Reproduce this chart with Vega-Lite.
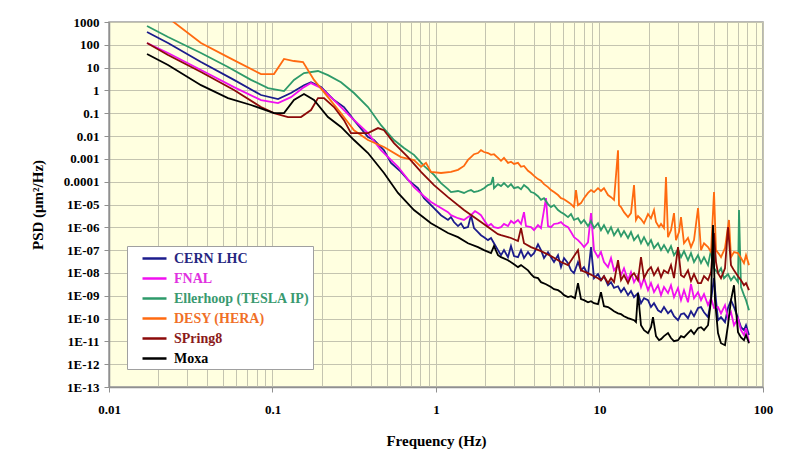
{
"$schema":"https://vega.github.io/schema/vega-lite/v6.json",
"width":654,"height":365,
"autosize":{"type":"none"},
"padding":{"left":109,"top":22,"right":22,"bottom":73},
"background":"white",
"config":{"view":{"fill":"#ffffe0","stroke":"#a0a0a0","strokeWidth":1.5},"font":"Liberation Serif"},
"datasets":{
"cern":[{"f":0.01708,"p":364},{"f":0.02296,"p":120},{"f":0.03653,"p":17.6},{"f":0.05813,"p":2.9},{"f":0.08505,"p":0.63},{"f":0.1081,"p":0.42},{"f":0.1297,"p":0.77},{"f":0.1558,"p":1.7},{"f":0.172,"p":2.3},{"f":0.198,"p":1.4},{"f":0.2377,"p":0.38},{"f":0.2737,"p":0.187},{"f":0.3151,"p":0.05},{"f":0.3838,"p":0.009},{"f":0.4176,"p":0.0067},{"f":0.4808,"p":0.0024},{"f":0.5306,"p":0.00067},{"f":0.6107,"p":0.00027},{"f":0.674,"p":0.00012},{"f":0.7759,"p":5.2e-5},{"f":0.8445,"p":1.9e-5},{"f":0.9723,"p":7.0e-6},{"f":1.073,"p":3.4e-6},{"f":1.184,"p":2.1e-6},{"f":1.235,"p":2.8e-6},{"f":1.288,"p":1.7e-6},{"f":1.363,"p":1.13e-6},{"f":1.422,"p":1.5e-6},{"f":1.483,"p":9.2e-7},{"f":1.569,"p":1.02e-6},{"f":1.637,"p":3.4e-6},{"f":1.708,"p":9.2e-7},{"f":1.807,"p":6.2e-7},{"f":1.884,"p":4.5e-7},{"f":1.966,"p":3.7e-7},{"f":2.08,"p":2.75e-7},{"f":2.17,"p":3.4e-7},{"f":2.263,"p":2.0e-7},{"f":2.394,"p":1.0e-7},{"f":2.498,"p":6.0e-8},{"f":2.605,"p":1.0e-7},{"f":2.756,"p":4.9e-8},{"f":2.875,"p":1.5e-7},{"f":3.0,"p":5.5e-8},{"f":3.173,"p":4.9e-8},{"f":3.311,"p":1.0e-7},{"f":3.453,"p":4.5e-8},{"f":3.654,"p":8.2e-8},{"f":3.811,"p":5.5e-8},{"f":3.976,"p":7.4e-8},{"f":4.206,"p":1.8e-7},{"f":4.387,"p":1.0e-7},{"f":4.577,"p":4.5e-8},{"f":4.842,"p":8.2e-8},{"f":5.051,"p":4.9e-8},{"f":5.269,"p":3.0e-8},{"f":5.575,"p":6.0e-8},{"f":5.815,"p":1.8e-8},{"f":6.067,"p":4.5e-8},{"f":6.418,"p":2.7e-8},{"f":6.695,"p":1.3e-8},{"f":6.983,"p":9.8e-9},{"f":7.387,"p":3.0e-8},{"f":7.706,"p":1.3e-8},{"f":8.039,"p":1.8e-8},{"f":8.505,"p":8.0e-9},{"f":8.873,"p":1.35e-7},{"f":9.256,"p":5.9e-9},{"f":9.791,"p":8.9e-9},{"f":10.21,"p":4.8e-9},{"f":10.65,"p":7.2e-9},{"f":11.27,"p":2.9e-9},{"f":11.76,"p":3.95e-9},{"f":12.27,"p":2.2e-9},{"f":12.98,"p":2.6e-9},{"f":13.54,"p":1.44e-9},{"f":14.12,"p":2.2e-9},{"f":14.94,"p":1.06e-9},{"f":15.58,"p":1.6e-9},{"f":16.26,"p":8.7e-10},{"f":17.2,"p":1.3e-9},{"f":17.94,"p":4.7e-10},{"f":18.72,"p":7.85e-10},{"f":19.8,"p":6.4e-10},{"f":20.65,"p":3.2e-10},{"f":21.54,"p":4.7e-10},{"f":22.79,"p":2.3e-10},{"f":23.78,"p":1.9e-10},{"f":24.8,"p":3.2e-10},{"f":26.24,"p":1.7e-10},{"f":27.37,"p":2.3e-10},{"f":28.55,"p":1.27e-10},{"f":30.21,"p":8.5e-11},{"f":31.51,"p":1.56e-10},{"f":32.87,"p":1.7e-10},{"f":34.77,"p":1.04e-10},{"f":36.27,"p":2.1e-10},{"f":37.84,"p":1.27e-10},{"f":40.05,"p":2.9e-10},{"f":41.77,"p":3.2e-10},{"f":43.57,"p":1.9e-10},{"f":46.1,"p":1.15e-10},{"f":48.09,"p":6.4e-10},{"f":50.16,"p":5.9e-9},{"f":51.58,"p":6.4e-10},{"f":53.06,"p":8.5e-11},{"f":55.35,"p":1.15e-10},{"f":58.55,"p":7.0e-11},{"f":61.08,"p":2.9e-10},{"f":63.72,"p":6.4e-10},{"f":66.46,"p":3.2e-10},{"f":70.31,"p":1.04e-10},{"f":73.35,"p":4.2e-11},{"f":76.5,"p":3.1e-11},{"f":78.72,"p":5.1e-11},{"f":82.1,"p":1.9e-11}],
"fnal":[{"f":0.01708,"p":120},{"f":0.02296,"p":44},{"f":0.03653,"p":7.85},{"f":0.05813,"p":1.4},{"f":0.08505,"p":0.38},{"f":0.1081,"p":0.28},{"f":0.1297,"p":0.51},{"f":0.1558,"p":1.4},{"f":0.172,"p":2.1},{"f":0.198,"p":1.27},{"f":0.2377,"p":0.38},{"f":0.302,"p":0.068},{"f":0.3838,"p":0.0135},{"f":0.4609,"p":0.0024},{"f":0.5855,"p":0.00045},{"f":0.7333,"p":5.8e-5},{"f":0.8445,"p":2.3e-5},{"f":0.932,"p":1.3e-5},{"f":1.073,"p":7.0e-6},{"f":1.184,"p":4.6e-6},{"f":1.235,"p":3.4e-6},{"f":1.363,"p":2.5e-6},{"f":1.483,"p":2.1e-6},{"f":1.569,"p":2.8e-6},{"f":1.637,"p":3.4e-6},{"f":1.732,"p":5.1e-6},{"f":1.807,"p":4.2e-6},{"f":1.884,"p":3.4e-6},{"f":1.966,"p":2.1e-6},{"f":2.08,"p":1.13e-6},{"f":2.17,"p":1.4e-6},{"f":2.263,"p":1.02e-6},{"f":2.394,"p":9.2e-7},{"f":2.498,"p":1.02e-6},{"f":2.605,"p":1.4e-6},{"f":2.756,"p":1.13e-6},{"f":2.875,"p":1.9e-6},{"f":3.0,"p":1.5e-6},{"f":3.173,"p":2.1e-6},{"f":3.311,"p":1.4e-6},{"f":3.453,"p":4.6e-6},{"f":3.552,"p":1.13e-6},{"f":3.811,"p":1.02e-6},{"f":3.976,"p":7.5e-7},{"f":4.206,"p":1.25e-6},{"f":4.387,"p":9.2e-7},{"f":4.707,"p":1.9e-5},{"f":4.842,"p":1.13e-6},{"f":5.051,"p":1.02e-6},{"f":5.269,"p":1.4e-6},{"f":5.575,"p":1.5e-6},{"f":5.815,"p":1.7e-6},{"f":6.067,"p":1.25e-6},{"f":6.418,"p":1.02e-6},{"f":6.695,"p":6.2e-7},{"f":6.983,"p":3.7e-7},{"f":7.387,"p":2.75e-7},{"f":7.706,"p":2.0e-7},{"f":8.039,"p":1.35e-7},{"f":8.505,"p":2.2e-7},{"f":8.873,"p":4.2e-6},{"f":9.256,"p":1.0e-7},{"f":9.791,"p":4.9e-8},{"f":10.21,"p":8.2e-8},{"f":10.65,"p":3.0e-8},{"f":11.27,"p":1.8e-8},{"f":11.76,"p":4.5e-8},{"f":12.27,"p":1.3e-8},{"f":12.98,"p":2.2e-8},{"f":13.54,"p":8.0e-9},{"f":14.12,"p":1.6e-8},{"f":14.94,"p":4.8e-9},{"f":15.58,"p":1.1e-8},{"f":16.26,"p":3.95e-9},{"f":17.2,"p":8.0e-9},{"f":17.94,"p":2.4e-9},{"f":18.72,"p":5.9e-9},{"f":19.8,"p":1.76e-9},{"f":20.65,"p":3.6e-9},{"f":21.54,"p":1.44e-9},{"f":22.79,"p":2.9e-9},{"f":23.78,"p":1.06e-9},{"f":24.8,"p":2.4e-9},{"f":26.24,"p":1.3e-9},{"f":27.37,"p":2.9e-9},{"f":28.55,"p":8.7e-10},{"f":30.21,"p":2.2e-9},{"f":31.51,"p":6.4e-10},{"f":32.87,"p":1.76e-9},{"f":34.77,"p":5.2e-10},{"f":36.27,"p":3.2e-9},{"f":37.84,"p":7.85e-10},{"f":40.05,"p":1.44e-9},{"f":41.77,"p":6.4e-10},{"f":43.57,"p":1.18e-9},{"f":46.1,"p":3.9e-10},{"f":48.09,"p":7.85e-10},{"f":50.16,"p":2.9e-10},{"f":53.06,"p":3.2e-10},{"f":55.35,"p":1.7e-10},{"f":58.55,"p":3.9e-10},{"f":61.08,"p":1.04e-10},{"f":63.72,"p":1.9e-10},{"f":66.46,"p":5.1e-11},{"f":70.31,"p":1.04e-10},{"f":73.35,"p":3.1e-11},{"f":76.5,"p":1.9e-11},{"f":78.72,"p":3.8e-11},{"f":82.1,"p":9.2e-12}],
"eller":[{"f":0.01708,"p":668},{"f":0.02296,"p":220},{"f":0.03653,"p":44},{"f":0.05342,"p":10.6},{"f":0.07387,"p":2.9},{"f":0.09387,"p":1.27},{"f":0.1176,"p":0.94},{"f":0.1353,"p":2.9},{"f":0.1558,"p":5.8},{"f":0.1898,"p":7.1},{"f":0.2184,"p":4.7},{"f":0.2624,"p":2.3},{"f":0.3151,"p":0.77},{"f":0.3838,"p":0.187},{"f":0.4609,"p":0.03},{"f":0.5534,"p":0.0067},{"f":0.6371,"p":0.003},{"f":0.7333,"p":0.0015},{"f":0.8445,"p":0.00049},{"f":0.9723,"p":0.0002},{"f":1.073,"p":8.7e-5},{"f":1.184,"p":4.7e-5},{"f":1.235,"p":3.5e-5},{"f":1.363,"p":3.9e-5},{"f":1.483,"p":3.2e-5},{"f":1.569,"p":3.9e-5},{"f":1.637,"p":4.3e-5},{"f":1.708,"p":3.5e-5},{"f":1.807,"p":3.9e-5},{"f":1.884,"p":4.3e-5},{"f":1.966,"p":5.2e-5},{"f":2.08,"p":7.1e-5},{"f":2.17,"p":7.8e-5},{"f":2.232,"p":0.00016},{"f":2.263,"p":5.2e-5},{"f":2.394,"p":7.8e-5},{"f":2.498,"p":6.4e-5},{"f":2.605,"p":8.7e-5},{"f":2.756,"p":5.8e-5},{"f":2.875,"p":7.8e-5},{"f":3.0,"p":5.2e-5},{"f":3.173,"p":5.8e-5},{"f":3.311,"p":4.7e-5},{"f":3.453,"p":7.1e-5},{"f":3.654,"p":5.2e-5},{"f":3.811,"p":3.5e-5},{"f":3.976,"p":3.2e-5},{"f":4.206,"p":2.3e-5},{"f":4.387,"p":1.6e-5},{"f":4.577,"p":1.9e-5},{"f":4.842,"p":1.04e-5},{"f":5.051,"p":7.7e-6},{"f":5.269,"p":9.4e-6},{"f":5.575,"p":5.7e-6},{"f":5.815,"p":4.6e-6},{"f":6.067,"p":3.8e-6},{"f":6.418,"p":2.8e-6},{"f":6.695,"p":3.8e-6},{"f":6.983,"p":2.1e-6},{"f":7.387,"p":2.5e-6},{"f":7.706,"p":1.5e-6},{"f":8.039,"p":2.1e-6},{"f":8.505,"p":1.13e-6},{"f":8.873,"p":1.9e-6},{"f":9.256,"p":9.2e-7},{"f":9.791,"p":1.5e-6},{"f":10.21,"p":7.5e-7},{"f":10.65,"p":1.25e-6},{"f":11.27,"p":5.6e-7},{"f":11.76,"p":1.02e-6},{"f":12.27,"p":4.5e-7},{"f":12.98,"p":8.3e-7},{"f":13.54,"p":4.1e-7},{"f":14.12,"p":6.8e-7},{"f":14.94,"p":3.4e-7},{"f":15.58,"p":6.2e-7},{"f":16.26,"p":2.75e-7},{"f":17.2,"p":4.5e-7},{"f":17.94,"p":2.0e-7},{"f":18.72,"p":3.7e-7},{"f":19.8,"p":1.66e-7},{"f":20.65,"p":2.75e-7},{"f":21.54,"p":1.22e-7},{"f":22.79,"p":2.0e-7},{"f":23.78,"p":1.0e-7},{"f":24.8,"p":1.66e-7},{"f":26.24,"p":8.2e-8},{"f":27.37,"p":1.5e-7},{"f":28.55,"p":6.0e-8},{"f":30.21,"p":1.1e-7},{"f":31.51,"p":4.9e-8},{"f":32.87,"p":9.0e-8},{"f":34.77,"p":3.6e-8},{"f":36.27,"p":7.4e-8},{"f":37.84,"p":3.0e-8},{"f":40.05,"p":6.0e-8},{"f":41.77,"p":2.7e-8},{"f":43.57,"p":4.9e-8},{"f":46.1,"p":2.2e-8},{"f":48.09,"p":1.0e-7},{"f":50.16,"p":1.6e-8},{"f":53.06,"p":9.8e-9},{"f":55.35,"p":1.6e-8},{"f":57.74,"p":5.9e-9},{"f":61.08,"p":8.9e-9},{"f":63.72,"p":4.8e-9},{"f":66.46,"p":7.2e-9},{"f":70.31,"p":3.95e-9},{"f":71.32,"p":5.7e-6},{"f":73.35,"p":2.4e-9},{"f":76.5,"p":1.06e-9},{"f":78.72,"p":6.4e-10},{"f":82.1,"p":2.3e-10}],
"desy":[{"f":0.01708,"p":5560},{"f":0.02394,"p":1224},{"f":0.03653,"p":120},{"f":0.05342,"p":29},{"f":0.08505,"p":5.2},{"f":0.1021,"p":5.2},{"f":0.1176,"p":24},{"f":0.1353,"p":19.5},{"f":0.1537,"p":17.6},{"f":0.1794,"p":2.9},{"f":0.2184,"p":0.51},{"f":0.2624,"p":0.1},{"f":0.3151,"p":0.018},{"f":0.3838,"p":0.0067},{"f":0.4808,"p":0.0033},{"f":0.6107,"p":0.0012},{"f":0.7333,"p":0.00089},{"f":0.8096,"p":0.00045},{"f":0.8686,"p":0.00067},{"f":0.932,"p":0.00027},{"f":1.073,"p":0.00024},{"f":1.235,"p":0.00027},{"f":1.363,"p":0.00033},{"f":1.483,"p":0.00049},{"f":1.569,"p":0.0009},{"f":1.637,"p":0.0012},{"f":1.708,"p":0.0016},{"f":1.807,"p":0.0018},{"f":1.884,"p":0.0024},{"f":1.966,"p":0.002},{"f":2.08,"p":0.0018},{"f":2.17,"p":0.0015},{"f":2.263,"p":0.0016},{"f":2.394,"p":0.0011},{"f":2.498,"p":0.00082},{"f":2.605,"p":0.0011},{"f":2.756,"p":0.00067},{"f":2.875,"p":0.00074},{"f":3.0,"p":0.0006},{"f":3.173,"p":0.00067},{"f":3.311,"p":0.00045},{"f":3.453,"p":0.00049},{"f":3.654,"p":0.0003},{"f":3.811,"p":0.00024},{"f":3.976,"p":0.00018},{"f":4.206,"p":0.00013},{"f":4.387,"p":0.00011},{"f":4.577,"p":7.8e-5},{"f":4.842,"p":5.8e-5},{"f":5.051,"p":4.3e-5},{"f":5.269,"p":3.5e-5},{"f":5.575,"p":2.6e-5},{"f":5.815,"p":1.9e-5},{"f":6.067,"p":1.7e-5},{"f":6.418,"p":1.3e-5},{"f":6.695,"p":1.04e-5},{"f":6.983,"p":7.7e-6},{"f":7.183,"p":4.3e-5},{"f":7.387,"p":9.4e-6},{"f":7.706,"p":1.15e-5},{"f":8.039,"p":1.9e-5},{"f":8.505,"p":3.2e-5},{"f":8.873,"p":4.3e-5},{"f":9.256,"p":3.5e-5},{"f":9.791,"p":5.2e-5},{"f":10.21,"p":3.9e-5},{"f":10.65,"p":5.2e-5},{"f":11.27,"p":2.6e-5},{"f":11.76,"p":2.1e-5},{"f":12.27,"p":1.6e-5},{"f":12.98,"p":0.0024},{"f":13.16,"p":9.4e-6},{"f":13.54,"p":7.7e-6},{"f":14.12,"p":4.6e-6},{"f":14.94,"p":2.8e-6},{"f":15.58,"p":4.2e-6},{"f":16.26,"p":7.1e-5},{"f":16.72,"p":2.1e-6},{"f":17.2,"p":3.1e-6},{"f":17.94,"p":2.3e-6},{"f":18.72,"p":1.5e-6},{"f":19.8,"p":3.8e-6},{"f":20.65,"p":2.5e-6},{"f":21.54,"p":5.7e-6},{"f":22.16,"p":1.7e-6},{"f":23.12,"p":1.02e-6},{"f":23.78,"p":1.4e-6},{"f":24.8,"p":9.2e-7},{"f":25.51,"p":0.00016},{"f":26.24,"p":3.7e-7},{"f":27.37,"p":7.5e-7},{"f":28.55,"p":4.2e-6},{"f":29.37,"p":2.75e-7},{"f":30.64,"p":6.2e-7},{"f":31.51,"p":2.8e-6},{"f":32.87,"p":2.0e-7},{"f":34.77,"p":3.4e-7},{"f":36.27,"p":1.35e-7},{"f":37.84,"p":2.75e-7},{"f":40.05,"p":7.0e-6},{"f":41.77,"p":1.0e-7},{"f":43.57,"p":2.0e-7},{"f":46.1,"p":1.35e-7},{"f":48.09,"p":8.2e-8},{"f":50.16,"p":3.5e-5},{"f":51.58,"p":1.0e-7},{"f":53.81,"p":6.7e-8},{"f":55.35,"p":4.9e-8},{"f":58.55,"p":1.22e-7},{"f":61.94,"p":2.1e-6},{"f":63.72,"p":4.9e-8},{"f":66.46,"p":8.2e-8},{"f":70.31,"p":7.4e-8},{"f":73.35,"p":4.5e-8},{"f":76.5,"p":2.7e-8},{"f":78.72,"p":6.0e-8},{"f":82.1,"p":2.2e-8}],
"spring":[{"f":0.01708,"p":120},{"f":0.02296,"p":36},{"f":0.03653,"p":6.4},{"f":0.05813,"p":1.04},{"f":0.08505,"p":0.187},{"f":0.1021,"p":0.102},{"f":0.1244,"p":0.068},{"f":0.1493,"p":0.068},{"f":0.172,"p":0.138},{"f":0.1898,"p":0.46},{"f":0.2065,"p":0.46},{"f":0.2377,"p":0.187},{"f":0.2737,"p":0.05},{"f":0.302,"p":0.0135},{"f":0.3838,"p":0.0135},{"f":0.4418,"p":0.0224},{"f":0.4808,"p":0.018},{"f":0.5534,"p":0.0049},{"f":0.674,"p":0.0012},{"f":0.8096,"p":0.00027},{"f":0.9723,"p":7.1e-5},{"f":1.184,"p":2.1e-5},{"f":1.483,"p":5.7e-6},{"f":1.884,"p":1.7e-6},{"f":2.394,"p":5.0e-7},{"f":2.498,"p":4.5e-7},{"f":2.756,"p":3.7e-7},{"f":2.875,"p":3.4e-7},{"f":3.173,"p":2.5e-7},{"f":3.311,"p":9.2e-7},{"f":3.453,"p":2.0e-7},{"f":3.811,"p":1.35e-7},{"f":4.387,"p":9.0e-8},{"f":5.051,"p":5.5e-8},{"f":5.815,"p":3.0e-8},{"f":6.418,"p":2.2e-8},{"f":7.387,"p":1.0e-7},{"f":7.706,"p":1.3e-8},{"f":8.505,"p":9.8e-9},{"f":9.256,"p":7.2e-9},{"f":9.791,"p":5.9e-9},{"f":10.21,"p":4.8e-9},{"f":10.65,"p":7.2e-9},{"f":11.27,"p":3.6e-9},{"f":11.76,"p":5.9e-9},{"f":12.27,"p":3.95e-9},{"f":12.98,"p":3.6e-8},{"f":13.54,"p":4.8e-9},{"f":14.12,"p":8.0e-9},{"f":14.94,"p":3.6e-9},{"f":15.58,"p":7.2e-9},{"f":16.26,"p":9.8e-9},{"f":17.2,"p":4.8e-9},{"f":17.94,"p":4.9e-8},{"f":18.72,"p":5.9e-9},{"f":19.8,"p":1.3e-8},{"f":20.65,"p":1.8e-8},{"f":21.54,"p":8.0e-9},{"f":22.79,"p":1.6e-8},{"f":23.78,"p":6.5e-9},{"f":24.8,"p":1.3e-8},{"f":26.24,"p":9.8e-9},{"f":27.37,"p":2.2e-8},{"f":28.55,"p":5.9e-9},{"f":30.21,"p":1.35e-7},{"f":31.51,"p":8.0e-9},{"f":32.87,"p":6.5e-9},{"f":34.77,"p":1.3e-8},{"f":36.27,"p":4.4e-9},{"f":37.84,"p":8.9e-9},{"f":40.05,"p":3.6e-9},{"f":41.77,"p":3.6e-9},{"f":43.57,"p":7.2e-9},{"f":46.1,"p":4.8e-9},{"f":48.09,"p":1.1e-8},{"f":50.16,"p":5.6e-7},{"f":51.58,"p":3.0e-8},{"f":53.06,"p":9.8e-9},{"f":55.35,"p":5.9e-9},{"f":58.55,"p":1.6e-8},{"f":61.08,"p":1.02e-6},{"f":63.72,"p":2.2e-8},{"f":66.46,"p":1.3e-8},{"f":70.31,"p":7.2e-9},{"f":73.35,"p":4.8e-9},{"f":76.5,"p":2.9e-9},{"f":78.72,"p":3.6e-9},{"f":82.1,"p":1.76e-9}],
"moxa":[{"f":0.01708,"p":39.5},{"f":0.02296,"p":13},{"f":0.03653,"p":1.7},{"f":0.05342,"p":0.46},{"f":0.07387,"p":0.23},{"f":0.1021,"p":0.102},{"f":0.1176,"p":0.102},{"f":0.1353,"p":0.38},{"f":0.1558,"p":0.695},{"f":0.1794,"p":0.38},{"f":0.2184,"p":0.068},{"f":0.2624,"p":0.025},{"f":0.3151,"p":0.0067},{"f":0.3838,"p":0.0018},{"f":0.4808,"p":0.00024},{"f":0.5855,"p":3.2e-5},{"f":0.7333,"p":5.7e-6},{"f":0.932,"p":1.5e-6},{"f":1.184,"p":5.6e-7},{"f":1.363,"p":3.7e-7},{"f":1.569,"p":2.0e-7},{"f":1.807,"p":1.35e-7},{"f":1.966,"p":1.0e-7},{"f":2.17,"p":7.4e-8},{"f":2.263,"p":1.5e-7},{"f":2.394,"p":6.0e-8},{"f":2.498,"p":4.9e-8},{"f":2.756,"p":3.6e-8},{"f":3.0,"p":2.4e-8},{"f":3.173,"p":1.8e-8},{"f":3.311,"p":2.2e-8},{"f":3.654,"p":1.3e-8},{"f":3.811,"p":8.9e-9},{"f":3.976,"p":6.5e-9},{"f":4.206,"p":5.9e-9},{"f":4.387,"p":3.95e-9},{"f":4.707,"p":3.2e-9},{"f":5.051,"p":2.4e-9},{"f":5.269,"p":1.95e-9},{"f":5.575,"p":1.76e-9},{"f":5.815,"p":1.44e-9},{"f":6.067,"p":1.06e-9},{"f":6.418,"p":8.7e-10},{"f":6.695,"p":9.6e-10},{"f":7.082,"p":7.85e-10},{"f":7.387,"p":3.6e-9},{"f":7.706,"p":7.1e-10},{"f":8.039,"p":6.4e-10},{"f":8.505,"p":5.2e-10},{"f":8.873,"p":5.8e-10},{"f":9.256,"p":4.7e-10},{"f":9.791,"p":4.3e-10},{"f":10.21,"p":1.44e-9},{"f":10.65,"p":3.5e-10},{"f":11.27,"p":3.2e-10},{"f":11.76,"p":2.6e-10},{"f":12.27,"p":2.1e-10},{"f":12.98,"p":1.7e-10},{"f":13.54,"p":1.56e-10},{"f":14.12,"p":1.27e-10},{"f":14.94,"p":1.04e-10},{"f":15.58,"p":9.4e-11},{"f":16.26,"p":8.5e-11},{"f":16.72,"p":7.0e-11},{"f":17.2,"p":1.3e-9},{"f":17.94,"p":5.1e-11},{"f":18.72,"p":3.1e-11},{"f":19.8,"p":2.3e-11},{"f":20.65,"p":4.2e-11},{"f":21.24,"p":1.15e-10},{"f":22.16,"p":1.7e-11},{"f":23.12,"p":1.13e-11},{"f":23.78,"p":1.25e-11},{"f":24.8,"p":1.7e-11},{"f":26.24,"p":2.3e-11},{"f":27.37,"p":1.4e-11},{"f":28.55,"p":1.02e-11},{"f":30.21,"p":1.13e-11},{"f":31.51,"p":1.7e-11},{"f":32.87,"p":1.5e-11},{"f":34.77,"p":2.3e-11},{"f":36.27,"p":3.1e-11},{"f":37.84,"p":2.1e-11},{"f":40.05,"p":3.8e-11},{"f":41.77,"p":4.2e-11},{"f":43.57,"p":3.1e-11},{"f":46.1,"p":5.1e-11},{"f":48.09,"p":6.4e-10},{"f":49.45,"p":1.25e-6},{"f":50.85,"p":6.4e-10},{"f":53.06,"p":2.3e-11},{"f":55.35,"p":8.3e-12},{"f":58.55,"p":6.8e-12},{"f":61.08,"p":5.1e-11},{"f":63.72,"p":6.4e-10},{"f":66.46,"p":2.9e-9},{"f":68.39,"p":2.3e-10},{"f":70.31,"p":2.5e-11},{"f":73.35,"p":1.5e-11},{"f":76.5,"p":1.13e-11},{"f":78.72,"p":1.9e-11},{"f":82.1,"p":8.3e-12}]
},
"encoding":{
"x":{"field":"f","type":"quantitative","scale":{"type":"log","domain":[0.01,100],"nice":false},
"axis":{"title":"Frequency (Hz)","titleFont":"Liberation Serif","titleFontSize":15,"titleFontWeight":"bold","titleColor":"#000","titlePadding":17,
"values":[0.01,0.02,0.03,0.04,0.05,0.06,0.07,0.08,0.09,0.1,0.2,0.3,0.4,0.5,0.6,0.7,0.8,0.9,1,2,3,4,5,6,7,8,9,10,20,30,40,50,60,70,80,90,100],
"labelExpr":"abs(log(datum.value)/LN10 - round(log(datum.value)/LN10)) < 0.01 ? (datum.value >= 1 ? format(datum.value,'d') : format(datum.value, '.' + round(-log(datum.value)/LN10) + 'f')) : ''",
"labelFont":"Liberation Serif","labelFontSize":13,"labelFontWeight":"bold","labelColor":"#000","labelPadding":11,"labelFlush":false,"labelOverlap":false,
"grid":true,"gridColor":"#c4c4b0","gridWidth":1,"domainColor":"#909090","domainWidth":1.5,
"tickSize":5,"tickColor":"#909090","tickOpacity":{"condition":{"test":"abs(log(datum.value)/LN10 - round(log(datum.value)/LN10)) < 0.01","value":1},"value":0}}},
"y":{"field":"p","type":"quantitative","scale":{"type":"log","domain":[1e-13,1000],"nice":false},
"axis":{"title":"PSD (μm²/Hz)","titleFont":"Liberation Serif","titleFontSize":15,"titleFontWeight":"bold","titleColor":"#000","titlePadding":18,
"values":[1000,100,10,1,0.1,0.01,0.001,0.0001,1e-5,1e-6,1e-7,1e-8,1e-9,1e-10,1e-11,1e-12,1e-13],
"labelExpr":"datum.value >= 1 ? format(datum.value,'d') : datum.value >= 0.00005 ? format(datum.value, '.' + round(-log(datum.value)/LN10) + 'f') : '1E-' + (round(-log(datum.value)/LN10) < 10 ? '0' : '') + round(-log(datum.value)/LN10)",
"labelFont":"Liberation Serif","labelFontSize":13,"labelFontWeight":"bold","labelColor":"#000","labelPadding":5,"labelFlush":false,"labelOverlap":false,
"grid":true,"gridColor":"#c4c4b0","gridWidth":1,"domainColor":"#909090","domainWidth":1.5,"tickSize":5,"tickColor":"#909090"}}
},
"layer":[
{"data":{"name":"cern"},"mark":{"type":"line","strokeWidth":1.8,"clip":true},"encoding":{"color":{"datum":"CERN LHC","type":"nominal",
"scale":{"domain":["CERN LHC","FNAL","Ellerhoop (TESLA IP)","DESY (HERA)","SPring8","Moxa"],"range":["#1c1c8c","#f010f0","#2e9a6a","#ff6a10","#8b0a0a","#000000"]},
"legend":{"title":null,"orient":"bottom-left","offset":18,"fillColor":"#ffffff","strokeColor":"#a0a0a0","padding":3,"symbolType":"M-1.5,0H1.5","symbolSize":256,"symbolStrokeWidth":2.5,"symbolOffset":15,"labelFont":"Liberation Serif","labelFontSize":14,"labelFontWeight":"bold","labelOffset":10,"rowPadding":3,
"labelColor":{"expr":"datum.value == 'CERN LHC' ? '#262680' : datum.value == 'FNAL' ? '#e030e0' : datum.value == 'Ellerhoop (TESLA IP)' ? '#3a9a70' : datum.value == 'DESY (HERA)' ? '#f07028' : datum.value == 'SPring8' ? '#8b1a1a' : '#000000'"}}}}},
{"data":{"name":"fnal"},"mark":{"type":"line","strokeWidth":1.8,"clip":true},"encoding":{"color":{"datum":"FNAL","type":"nominal"}}},
{"data":{"name":"eller"},"mark":{"type":"line","strokeWidth":1.8,"clip":true},"encoding":{"color":{"datum":"Ellerhoop (TESLA IP)","type":"nominal"}}},
{"data":{"name":"desy"},"mark":{"type":"line","strokeWidth":1.8,"clip":true},"encoding":{"color":{"datum":"DESY (HERA)","type":"nominal"}}},
{"data":{"name":"spring"},"mark":{"type":"line","strokeWidth":1.8,"clip":true},"encoding":{"color":{"datum":"SPring8","type":"nominal"}}},
{"data":{"name":"moxa"},"mark":{"type":"line","strokeWidth":1.8,"clip":true},"encoding":{"color":{"datum":"Moxa","type":"nominal"}}}
]
}
